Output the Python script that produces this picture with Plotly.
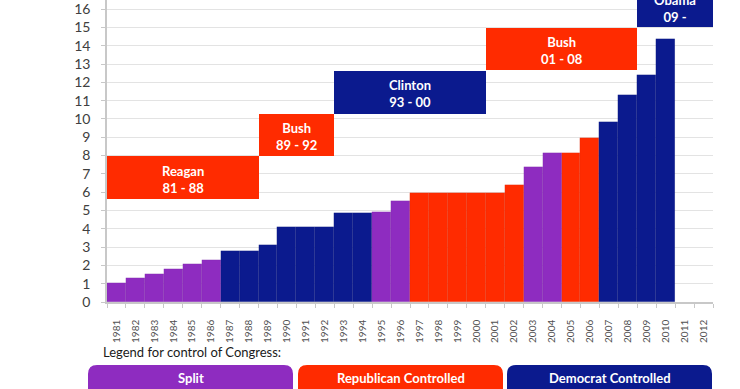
import plotly.graph_objects as go

# ---- data ----
years = list(range(1981, 2013))
debt_trillions = [1.05, 1.29, 1.51, 1.81, 2.07, 2.30, 2.79, 2.79, 3.09, 4.10,
                  4.10, 4.10, 4.88, 4.88, 4.92, 5.53, 5.95, 5.95, 5.95, 5.95,
                  5.95, 6.40, 7.40, 8.13, 8.13, 8.97, 9.85, 11.33, 12.38, 14.35,
                  None, None]
congress_control = (["Split"] * 6 + ["Democrat"] * 8 + ["Split"] * 2 +
                    ["Republican"] * 6 + ["Split"] * 2 + ["Republican"] * 2 +
                    ["Democrat"] * 4 + [None] * 2)

president_names = ["Reagan", "Bush", "Clinton", "Bush", "Obama"]
president_terms = ["81 - 88", "89 - 92", "93 - 00", "01 - 08", "09 -"]
president_start = [1981, 1989, 1993, 2001, 2009]
president_end = [1988, 1992, 2000, 2008, 2012]
president_party = ["Republican", "Republican", "Democrat", "Republican", "Democrat"]
box_low = [5.65, 7.95, 10.27, 12.65, 15.0]
box_high = [7.95, 10.27, 12.62, 14.96, 17.26]

legend_labels = ["Split", "Republican Controlled", "Democrat Controlled"]
legend_keys = ["Split", "Republican", "Democrat"]

# ---- styles ----
FONT = "Lato, Open Sans, sans-serif"
colors = {"Split": "#8E2CC0", "Republican": "#FF2B00", "Democrat": "#0B1A8E"}
bar_colors = [colors[c] if c else "rgba(0,0,0,0)" for c in congress_control]

fig = go.Figure()

fig.add_trace(go.Bar(
    x=years, y=debt_trillions, width=1.0,
    marker=dict(color=bar_colors, line=dict(width=0.4, color="rgba(0,0,0,0.12)")),
    hoverinfo="x+y", showlegend=False,
))

box_centers = [(s + e) / 2 for s, e in zip(president_start, president_end)]
fig.add_trace(go.Bar(
    x=box_centers,
    width=[e - s + 1 for s, e in zip(president_start, president_end)],
    base=box_low,
    y=[h - l for h, l in zip(box_high, box_low)],
    marker=dict(color=[colors[p] for p in president_party], line=dict(width=0)),
    hoverinfo="skip", showlegend=False,
))

for cx, lo, hi, n, t in zip(box_centers, box_low, box_high, president_names, president_terms):
    fig.add_annotation(
        x=cx, y=(lo + hi) / 2 - 0.08, xref="x", yref="y", showarrow=False,
        xanchor="center", yanchor="middle",
        text=f"<b>{n}</b><br><b>{t}</b>",
        font=dict(family=FONT, size=13, color="#FFFFFF"),
    )

fig.update_layout(
    width=740, height=389,
    margin=dict(l=107, r=27, t=0, b=87, autoexpand=False),
    paper_bgcolor="white", plot_bgcolor="white",
    barmode="overlay", bargap=0,
    font=dict(family=FONT),
)

fig.update_xaxes(
    range=[1980.5, 2012.5], automargin=False,
    tickmode="array", tickvals=years, ticktext=[str(y) for y in years],
    tickangle=-90, tickfont=dict(size=10, color="#505050"),
    ticks="outside", ticklen=12, tickcolor="rgba(0,0,0,0)",
    minor=dict(tick0=1980.5, dtick=1, ticks="outside", ticklen=4, tickcolor="#C8C8C8"),
    showline=True, linecolor="#C8C8C8", linewidth=1.5,
    showgrid=False, zeroline=False, fixedrange=True,
)
fig.update_yaxes(
    range=[0, 16.5], automargin=False,
    tickmode="array", tickvals=list(range(0, 17)),
    tickfont=dict(size=14, color="#404040"),
    ticklabeloverflow="allow", ticklabelstandoff=8,
    ticks="outside", ticklen=4, tickcolor="#C8C8C8",
    showline=True, linecolor="#C8C8C8", linewidth=1.5,
    showgrid=True, gridcolor="#E3E3E3", gridwidth=1,
    zeroline=False, fixedrange=True,
)

# ---- legend for control of Congress (below chart, in paper coords) ----
pw = 606.0
ph = 302.0
def px_x(p):
    return (p - 107) / pw
def px_y(p):
    return (302 - p) / ph

fig.add_annotation(
    x=px_x(101), y=px_y(352), xref="paper", yref="paper",
    xanchor="left", yanchor="middle", showarrow=False,
    text="Legend for control of Congress:",
    font=dict(size=13, color="#1A1A1A", family=FONT),
)

box_lefts = [88, 298, 507]
box_w = 205
r = 9
top = 365
bottom = 420
for i, (lab, key) in enumerate(zip(legend_labels, legend_keys)):
    x0, x1 = box_lefts[i], box_lefts[i] + box_w
    X0, X1 = px_x(x0), px_x(x1)
    Y0, Y1 = px_y(bottom), px_y(top)
    rx = r / pw
    ry = r / ph
    path = (f"M {X0},{Y0} L {X0},{Y1 - ry} Q {X0},{Y1} {X0 + rx},{Y1} "
            f"L {X1 - rx},{Y1} Q {X1},{Y1} {X1},{Y1 - ry} L {X1},{Y0} Z")
    fig.add_shape(type="path", path=path, xref="paper", yref="paper",
                  fillcolor=colors[key], line=dict(width=0), layer="above")
    fig.add_annotation(
        x=px_x((x0 + x1) / 2), y=px_y(378), xref="paper", yref="paper",
        xanchor="center", yanchor="middle", showarrow=False,
        text=f"<b>{lab}</b>",
        font=dict(size=13, color="#FFFFFF", family=FONT),
    )

fig.write_html(
    "out.html",
    config={"displayModeBar": False},
    post_script="document.body.style.margin='0';document.body.style.overflow='hidden';",
)
